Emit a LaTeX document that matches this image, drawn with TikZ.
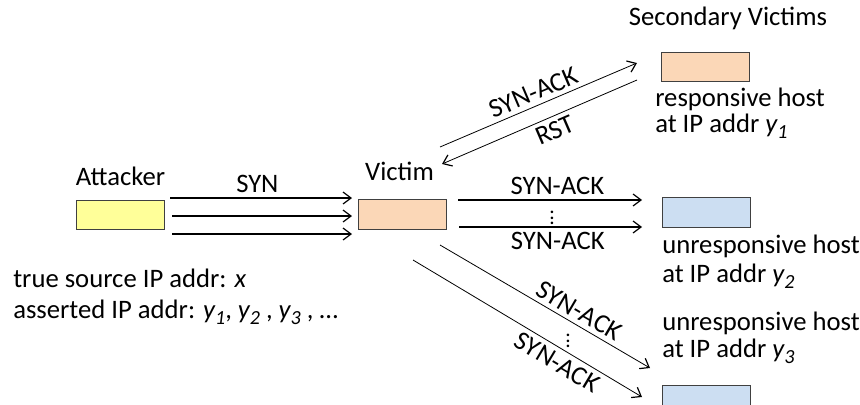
\documentclass[tikz,border=0pt]{standalone}
\usepackage{fontspec}
\setmainfont{Carlito}
\usetikzlibrary{arrows.meta}

\definecolor{attackyellow}{RGB}{255,255,153}
\definecolor{victimpeach}{RGB}{251,215,183}
\definecolor{silentblue}{RGB}{204,222,242}

% italic address with subscript
\newcommand{\addr}[1]{\textit{y\raisebox{-0.5ex}{\fontsize{15}{15}\selectfont #1}}}

\begin{document}
\begin{tikzpicture}[x=0.75pt, y=-0.75pt, font=\fontsize{20}{24}\selectfont,
    host/.style={draw=black!75, line width=0.7pt, minimum width=66.5pt, minimum height=22pt, inner sep=0pt},
    txt/.style={inner sep=0pt, anchor=base},
    msg/.style={line width=0.9pt, -{Straight Barb[length=6pt, width=9pt, line width=0.9pt]}},
    thinmsg/.style={line width=0.6pt, -{Straight Barb[length=6pt, width=9pt, line width=0.9pt]}},
    gap/.style={inner sep=0pt, font=\fontsize{16}{16}\selectfont}]
        \useasboundingbox (0,0) rectangle (860,404);
        \clip (0,0) rectangle (860,404);

        % hosts
        \node[host, fill=attackyellow] (attacker) at (120.5,215) {};
        \node[host, fill=victimpeach] (victim) at (402.5,214.5) {};
        \node[host, fill=victimpeach] (resp) at (705.5,67) {};
        \node[host, fill=silentblue] (silent1) at (706.5,212.5) {};
        \node[host, fill=silentblue] (silent2) at (706.5,400) {};

        % captions
        \node[txt] (attackname) at (120.5,185) {Attacker};
        \node[txt] (victimname) at (399.5,180) {Victim};
        \node[txt] (secname) at (728,25) {Secondary Victims};
        \node[txt, anchor=base west] (srcx) at (13,287) {true source IP addr: \textit{x}};
        \node[txt, anchor=base west] (srcy) at (13,318) {asserted IP addr: \addr{1}, \addr{2} , \addr{3} , \dots};
        \node[txt, anchor=base west] (resp1) at (655,106) {responsive host};
        \node[txt, anchor=base west] (resp2) at (655,132) {at IP addr \addr{1}};
        \node[txt, anchor=base west] (silent1a) at (662,253) {unresponsive host};
        \node[txt, anchor=base west] (silent1b) at (662,282) {at IP addr \addr{2}};
        \node[txt, anchor=base west] (silent2a) at (662,330) {unresponsive host};
        \node[txt, anchor=base west] (silent2b) at (662,357) {at IP addr \addr{3}};

        % end points of the messages
        \coordinate (syn1a) at (170,198);  \coordinate (syn1b) at (352,198);
        \coordinate (syn2a) at (172,216);  \coordinate (syn2b) at (352,216);
        \coordinate (syn3a) at (172,234);  \coordinate (syn3b) at (352,234);
        \coordinate (upa) at (440,147);    \coordinate (upb) at (637,63);
        \coordinate (rsta) at (637,80);    \coordinate (rstb) at (442,164);
        \coordinate (mida) at (458,200);   \coordinate (midb) at (642,200);
        \coordinate (midc) at (459,227);   \coordinate (midd) at (642,227);
        \coordinate (lowa) at (440,245);   \coordinate (lowb) at (650,368);
        \coordinate (lowc) at (413,260);   \coordinate (lowd) at (642,397);

        % spoofed SYN flood
        \draw[msg] (syn1a) -- node[above, pos=0.48] (synlabel) {SYN} (syn1b);
        \draw[msg] (syn2a) -- (syn2b);
        \draw[msg] (syn3a) -- (syn3b);

        % backscatter
        \draw[thinmsg] (upa) -- node[sloped, above] (sa1) {SYN-ACK} (upb);
        \draw[thinmsg] (rsta) -- node[sloped, below, pos=0.45] (rst) {RST} (rstb);
        \draw[msg] (mida) -- node[above, pos=0.54] (sa2) {SYN-ACK} (midb);
        \draw[msg] (midc) -- node[below, pos=0.54] (sa3) {SYN-ACK} (midd);
        \node[gap] (dots1) at (552,214) {\vdots};
        \draw[thinmsg] (lowa) -- node[sloped, above, pos=0.63] (sa4) {SYN-ACK} (lowb);
        \draw[thinmsg] (lowc) -- node[sloped, below, pos=0.66] (sa5) {SYN-ACK} (lowd);
        \node[gap] (dots2) at (568,337) {\vdots};
\end{tikzpicture}
\end{document}
